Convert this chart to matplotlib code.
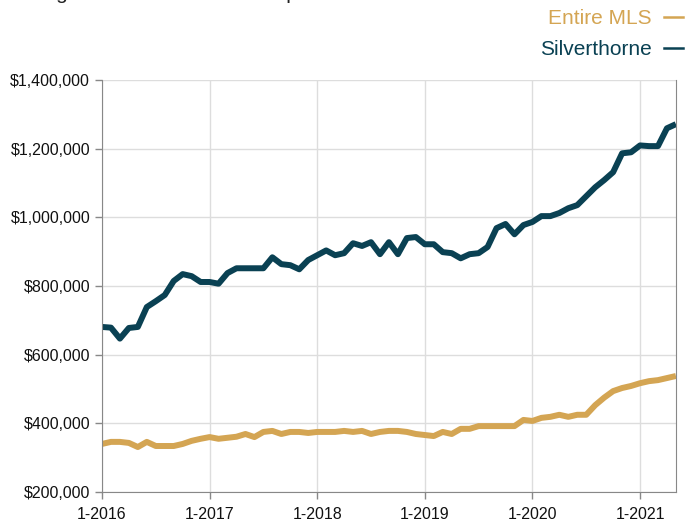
import matplotlib.pyplot as plt
from matplotlib.lines import Line2D
from matplotlib.ticker import FuncFormatter

plt.rcParams['font.family'] = ['Liberation Sans', 'DejaVu Sans']

# monthly values, Jan 2016 .. May 2021
silverthorne = [681000, 679000, 647000, 678000, 681000, 739000, 756000, 774000, 815000, 835000,
                829000, 812000, 812000, 807000, 838000, 852000, 852000, 852000, 852000, 884000,
                864000, 861000, 849000, 876000, 890000, 904000, 890000, 896000, 925000, 917000,
                928000, 893000, 928000, 893000, 940000, 943000, 922000, 922000, 899000, 896000,
                881000, 893000, 896000, 914000, 969000, 981000, 951000, 978000, 987000, 1004000,
                1004000, 1013000, 1027000, 1036000, 1062000, 1088000, 1109000, 1132000, 1187000, 1190000,
                1210000, 1208000, 1208000, 1260000, 1272000]
entire_mls = [340000, 346000, 346000, 343000, 331000, 346000, 334000, 334000, 334000, 340000,
              349000, 355000, 360000, 355000, 358000, 361000, 369000, 360000, 375000, 378000,
              369000, 375000, 375000, 372000, 375000, 375000, 375000, 378000, 375000, 378000,
              369000, 375000, 378000, 378000, 375000, 369000, 366000, 363000, 375000, 369000,
              384000, 384000, 392000, 392000, 392000, 392000, 392000, 410000, 407000, 416000,
              419000, 425000, 419000, 425000, 425000, 453000, 475000, 494000, 503000, 509000,
              517000, 523000, 526000, 532000, 538000]
tick_labels = ['1-2016', '1-2017', '1-2018', '1-2019', '1-2020', '1-2021']

gold = '#d4a553'
teal = '#0a4153'
months = list(range(len(silverthorne)))

fig = plt.figure(figsize=(6.89, 5.21), dpi=100)
ax = fig.add_axes([0.148, 0.0557, 0.833, 0.7903])

ax.plot(months, entire_mls, color=gold, lw=4.3, solid_joinstyle='round', solid_capstyle='butt')
ax.plot(months, silverthorne, color=teal, lw=4.3, solid_joinstyle='round', solid_capstyle='butt')

ax.set_xlim(0, 64)
ax.set_ylim(200000, 1400000)
ax.set_xticks(range(0, 61, 12))
ax.set_xticklabels(tick_labels)
ax.set_yticks(range(200000, 1400001, 200000))
ax.yaxis.set_major_formatter(FuncFormatter(lambda v, p: '${:,.0f}'.format(v)))
ax.tick_params(labelsize=11.5, colors='#888888', labelcolor='#111111', length=5, width=1)
ax.tick_params(axis='x', pad=6)

ax.grid(True, color='#dddddd', lw=1)
ax.set_axisbelow(True)
for s in ['left', 'bottom', 'right']:
    ax.spines[s].set_color('#888888')
ax.spines['top'].set_visible(False)

handles = [Line2D([], [], color=gold, lw=1.8), Line2D([], [], color=teal, lw=1.8)]
fig.legend(handles, ['Entire MLS', 'Silverthorne'], loc='upper right', bbox_to_anchor=(1.018, 1.019),
           frameon=False, markerfirst=False, handlelength=0.9, handletextpad=0.6,
           fontsize=15, labelspacing=0.6, labelcolor=[gold, teal])

fig.text(0.0, 1 + 1 / 521, 'Trailing 12-month median sale price', fontsize=15, color='#222222',
         va='baseline', ha='left')

fig.savefig('out.png', dpi=100)
